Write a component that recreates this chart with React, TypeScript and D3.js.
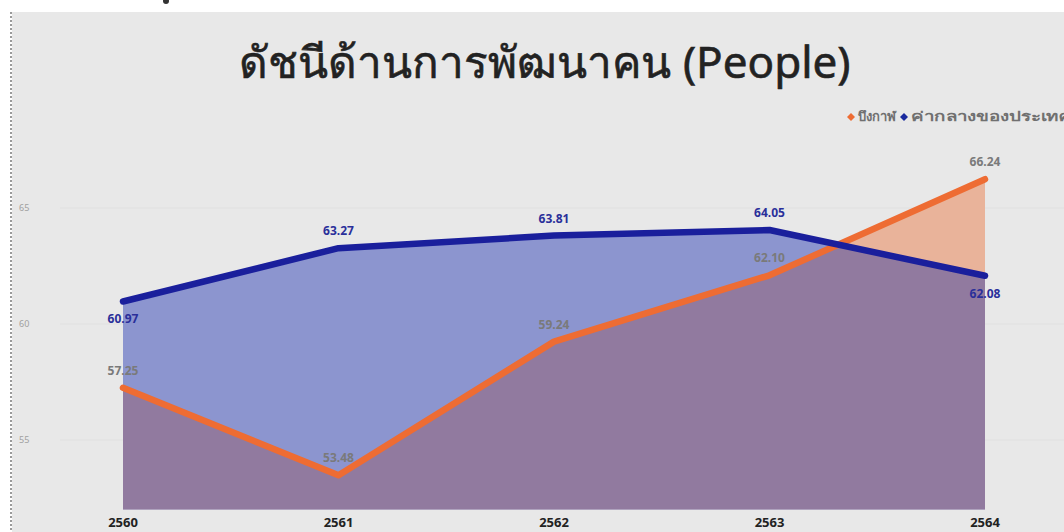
import React from "react";
import * as d3 from "d3";

const years = ["2560", "2561", "2562", "2563", "2564"];
const provinceValues = [57.25, 53.48, 59.24, 62.1, 66.24];
const nationalValues = [60.97, 63.27, 63.81, 64.05, 62.08];
const yTicks = [55, 60, 65];
const seriesNames = ["บึงกาฬ", "ค่ากลางของประเทศ"];
const title = "ดัชนีด้านการพัฒนาคน (People)";

const W = 1064;
const H = 532;
const FONT = "'Segoe UI', 'Noto Sans', 'DejaVu Sans', sans-serif";

export default function App() {
  const x = d3.scalePoint<string>().domain(years).range([123, 985]);
  const y = d3.scaleLinear().domain([52, 68]).range([509.6, 138.4]);

  const area = d3
    .area<number>()
    .x((_, i) => x(years[i]) as number)
    .y0(y(52))
    .y1((d) => y(d));
  const line = d3
    .line<number>()
    .x((_, i) => x(years[i]) as number)
    .y((d) => y(d));

  const orangeAbove = [true, true, true, true, true];
  const blueAbove = [false, true, true, true, false];

  return (
    <svg
      width={W}
      height={H}
      style={{ position: "fixed", left: 0, top: 0, display: "block" }}
      fontFamily={FONT}
    >
      <defs>
        <clipPath id="blueClip">
          <path d={area(nationalValues) || ""} />
        </clipPath>
      </defs>
      <rect x={0} y={0} width={W} height={H} fill="#ffffff" />
      <rect x={12} y={12} width={W - 12} height={H - 12} fill="#e8e8e8" />
      <line x1={11} x2={11} y1={12} y2={H} stroke="#9a9a9a" strokeWidth={2} strokeDasharray="2,2" />
      <circle cx={166} cy={1} r={3} fill="#333" />

      <text x={545} y={78} textAnchor="middle" fontSize={44} fill="#222" fontFamily="'Noto Sans', 'DejaVu Sans', sans-serif" stroke="#222" strokeWidth={0.6}>
        {title}
      </text>

      {/* legend */}
      <g fontSize={13} fill="#707070" fontWeight="bold">
        <path d="M851,113 l4,4 l-4,4 l-4,-4 z" fill="#ee6c33" />
        <text x={858} y={121} textLength={38} lengthAdjust="spacingAndGlyphs">{seriesNames[0]}</text>
        <path d="M904,113 l4,4 l-4,4 l-4,-4 z" fill="#1a2a9e" />
        <text x={911} y={121} textLength={160} lengthAdjust="spacingAndGlyphs">{seriesNames[1]}</text>
      </g>

      {/* gridlines and y ticks */}
      {yTicks.map((t) => (
        <g key={t}>
          <line x1={60} x2={W} y1={y(t)} y2={y(t)} stroke="#e0e0e0" strokeWidth={1} />
          <text x={19} y={y(t) + 3} fontSize={9} fill="#a0a0a0">
            {t}
          </text>
        </g>
      ))}

      {/* areas */}
      <path d={area(provinceValues) || ""} fill="#e9b39a" />
      <path d={area(nationalValues) || ""} fill="#8c95cf" />
      <path d={area(provinceValues) || ""} fill="#917a9f" clipPath="url(#blueClip)" />

      {/* lines */}
      <path d={line(provinceValues) || ""} fill="none" stroke="#ee6c33" strokeWidth={6.5} strokeLinecap="round" strokeLinejoin="round" />
      <path d={line(nationalValues) || ""} fill="none" stroke="#1a1f9c" strokeWidth={6.5} strokeLinecap="round" strokeLinejoin="round" />

      {/* labels */}
      <g fontSize={12} fontWeight="bold" textAnchor="middle">
        {provinceValues.map((v, i) => (
          <text key={"o" + i} x={x(years[i])} y={orangeAbove[i] ? y(v) - 13 : y(v) + 22} fill="#7a7a7a">
            {v.toFixed(2)}
          </text>
        ))}
        {nationalValues.map((v, i) => (
          <text key={"b" + i} x={x(years[i])} y={blueAbove[i] ? y(v) - 13 : y(v) + 22} fill="#2a2f9a">
            {v.toFixed(2)}
          </text>
        ))}
      </g>

      {/* x axis labels */}
      <g fontSize={13} fontWeight="bold" textAnchor="middle" fill="#222">
        {years.map((yr) => (
          <text key={yr} x={x(yr)} y={527}>
            {yr}
          </text>
        ))}
      </g>
    </svg>
  );
}
